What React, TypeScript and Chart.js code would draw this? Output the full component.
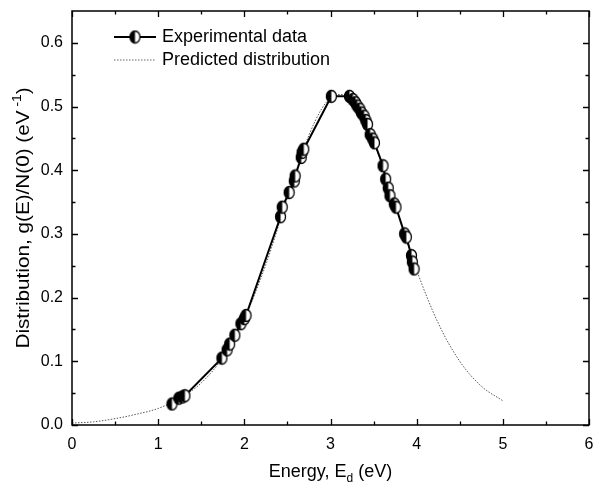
import React, { useEffect, useRef } from 'react';
import { Chart, registerables } from 'chart.js';

Chart.register(...registerables);

// Predicted distribution
const predictedE = [0, 0.25, 0.5, 0.75, 1.0, 1.25, 1.5, 1.75, 2.0, 2.25, 2.5, 2.75, 2.9, 3.0, 3.12, 3.25, 3.5, 3.75, 4.0, 4.25, 4.5, 4.75, 5.0];
const predictedG = [0.003, 0.005, 0.010, 0.017, 0.026, 0.042, 0.066, 0.106, 0.167, 0.252, 0.357, 0.455, 0.497, 0.513, 0.519, 0.512, 0.444, 0.345, 0.243, 0.160, 0.100, 0.061, 0.038];

// Experimental data
const expE = [1.16, 1.24, 1.28, 1.31, 1.74, 1.80, 1.83, 1.89, 1.96, 2.00, 2.02, 2.42, 2.44, 2.52, 2.58, 2.59, 2.66, 2.67, 2.69, 3.01, 3.22, 3.26, 3.29, 3.31, 3.34, 3.36, 3.39, 3.41, 3.43, 3.46, 3.49, 3.51, 3.61, 3.64, 3.67, 3.69, 3.74, 3.76, 3.86, 3.88, 3.94, 3.95, 3.97];
const expG = [0.033, 0.042, 0.044, 0.046, 0.105, 0.118, 0.127, 0.141, 0.159, 0.167, 0.172, 0.327, 0.342, 0.365, 0.383, 0.391, 0.420, 0.428, 0.433, 0.516, 0.516, 0.511, 0.506, 0.501, 0.496, 0.490, 0.485, 0.478, 0.472, 0.456, 0.449, 0.443, 0.407, 0.386, 0.372, 0.360, 0.347, 0.342, 0.300, 0.295, 0.266, 0.256, 0.245];

const xTicks = [0, 1, 2, 3, 4, 5, 6];
const yTicks = [0, 0.1, 0.2, 0.3, 0.4, 0.5, 0.6];
const xMinorTicks = [0.5, 1.5, 2.5, 3.5, 4.5, 5.5];
const yMinorTicks = [0.05, 0.15, 0.25, 0.35, 0.45, 0.55];

const legendLabels = ['Experimental data', 'Predicted distribution'];
const xTitle = ['Energy, E', 'd', ' (eV)'];
const yTitle = ['Distribution, g(E)/N(0) (eV', ' -1', ')'];

const FONT = "'Liberation Sans', Arial, Helvetica, sans-serif";

function makeMarker(): HTMLCanvasElement {
  const c = document.createElement('canvas');
  const w = 13, h = 15;
  c.width = w;
  c.height = h;
  const ctx = c.getContext('2d')!;
  const cx = w / 2, cy = h / 2, rx = 5, ry = 6;
  ctx.beginPath();
  ctx.ellipse(cx, cy, rx, ry, 0, 0, Math.PI * 2);
  ctx.fillStyle = '#fff';
  ctx.fill();
  ctx.beginPath();
  ctx.ellipse(cx, cy, rx, ry, 0, Math.PI / 2, (Math.PI * 3) / 2);
  ctx.closePath();
  ctx.fillStyle = '#000';
  ctx.fill();
  ctx.beginPath();
  ctx.ellipse(cx, cy, rx, ry, 0, 0, Math.PI * 2);
  ctx.lineWidth = 1.3;
  ctx.strokeStyle = '#000';
  ctx.stroke();
  return c;
}

export default function App() {
  const ref = useRef<HTMLCanvasElement | null>(null);

  useEffect(() => {
    document.body.style.margin = '0';
    const marker = makeMarker();

    const framePlugin = {
      id: 'frameTicks',
      afterDatasetsDraw(chart: any) {
        const { ctx, chartArea: a, scales } = chart;
        const xs = scales.x, ys = scales.y;
        ctx.save();
        ctx.strokeStyle = '#000';
        ctx.lineWidth = 1.5;
        ctx.strokeRect(a.left, a.top, a.right - a.left, a.bottom - a.top);
        ctx.lineWidth = 1.3;
        const major = 6, minor = 3.5;
        ctx.beginPath();
        const xt = (v: number, len: number) => {
          const p = Math.round(xs.getPixelForValue(v)) + 0.5;
          ctx.moveTo(p, a.bottom); ctx.lineTo(p, a.bottom - len);
          ctx.moveTo(p, a.top); ctx.lineTo(p, a.top + len);
        };
        const yt = (v: number, len: number) => {
          const p = Math.round(ys.getPixelForValue(v)) + 0.5;
          ctx.moveTo(a.left, p); ctx.lineTo(a.left + len, p);
          ctx.moveTo(a.right, p); ctx.lineTo(a.right - len, p);
        };
        xTicks.forEach((v) => xt(v, major));
        xMinorTicks.forEach((v) => xt(v, minor));
        yTicks.forEach((v) => yt(v, major));
        yMinorTicks.forEach((v) => yt(v, minor));
        ctx.stroke();

        // Legend
        const lx0 = a.left + 42, lx1 = a.left + 84;
        const r1 = a.top + 26, r2 = a.top + 49;
        ctx.strokeStyle = '#000';
        ctx.lineWidth = 2;
        ctx.setLineDash([]);
        ctx.beginPath();
        ctx.moveTo(lx0, r1); ctx.lineTo(lx1, r1);
        ctx.stroke();
        ctx.drawImage(marker, (lx0 + lx1) / 2 - marker.width / 2, r1 - marker.height / 2);
        ctx.lineWidth = 1;
        ctx.strokeStyle = '#666';
        ctx.setLineDash([1.5, 1.5]);
        ctx.beginPath();
        ctx.moveTo(lx0, r2); ctx.lineTo(lx1, r2);
        ctx.stroke();
        ctx.setLineDash([]);
        ctx.fillStyle = '#000';
        ctx.font = `18px ${FONT}`;
        ctx.textBaseline = 'middle';
        ctx.textAlign = 'left';
        ctx.fillText(legendLabels[0], lx1 + 6, r1);
        ctx.fillText(legendLabels[1], lx1 + 6, r2);

        // X title
        const big = `18px ${FONT}`, small = `12px ${FONT}`;
        ctx.textBaseline = 'alphabetic';
        ctx.font = big;
        const w0 = ctx.measureText(xTitle[0]).width;
        const w2 = ctx.measureText(xTitle[2]).width;
        ctx.font = small;
        const w1 = ctx.measureText(xTitle[1]).width;
        const cx = (a.left + a.right) / 2;
        let sx = cx - (w0 + w1 + w2) / 2;
        const by = 477;
        ctx.font = big; ctx.fillText(xTitle[0], sx, by); sx += w0;
        ctx.font = small; ctx.fillText(xTitle[1], sx, by + 5); sx += w1;
        ctx.font = big; ctx.fillText(xTitle[2], sx, by);

        // Y title (stretched along its length like the reference)
        ctx.save();
        ctx.translate(29, 218);
        ctx.rotate(-Math.PI / 2);
        ctx.scale(1.15, 1);
        ctx.font = big;
        const v0 = ctx.measureText(yTitle[0]).width;
        const v2 = ctx.measureText(yTitle[2]).width;
        ctx.font = small;
        const v1 = ctx.measureText(yTitle[1]).width;
        let sy = -(v0 + v1 + v2) / 2;
        ctx.font = big; ctx.fillText(yTitle[0], sy, 0); sy += v0;
        ctx.font = small; ctx.fillText(yTitle[1], sy, -8); sy += v1;
        ctx.font = big; ctx.fillText(yTitle[2], sy, 0);
        ctx.restore();
        ctx.restore();
      },
    };

    const chart = new Chart(ref.current!, {
      type: 'scatter',
      data: {
        datasets: [
          {
            label: legendLabels[0],
            data: expE.map((e, i) => ({ x: e, y: expG[i] })),
            showLine: true,
            borderColor: '#000',
            borderWidth: 2,
            pointStyle: marker as any,
            pointRadius: 6,
            tension: 0,
            order: 1,
          },
          {
            label: legendLabels[1],
            data: predictedE.map((e, i) => ({ x: e, y: predictedG[i] })),
            showLine: true,
            borderColor: '#555',
            borderWidth: 1,
            borderDash: [1.5, 1.5],
            pointRadius: 0,
            cubicInterpolationMode: 'monotone',
            order: 2,
          },
        ],
      },
      options: {
        animation: false,
        responsive: false,
        maintainAspectRatio: false,
        layout: { padding: { top: 11, right: 5, left: 0, bottom: 0 } },
        plugins: { legend: { display: false }, tooltip: { enabled: false } },
        scales: {
          x: {
            type: 'linear',
            min: 0,
            max: 6,
            afterBuildTicks: (s: any) => { s.ticks = xTicks.map((v) => ({ value: v })); },
            afterFit: (s: any) => { s.height = 62; s.paddingLeft = 0; s.paddingRight = 0; },
            grid: { display: false, drawTicks: false },
            border: { display: false },
            ticks: {
              color: '#000',
              font: { family: FONT, size: 16 },
              padding: 10,
              maxRotation: 0,
              callback: (v: any) => String(v),
            },
          },
          y: {
            type: 'linear',
            min: 0,
            max: 0.65,
            afterBuildTicks: (s: any) => { s.ticks = yTicks.map((v) => ({ value: v })); },
            afterFit: (s: any) => { s.width = 72; s.paddingTop = 0; s.paddingBottom = 0; },
            grid: { display: false, drawTicks: false },
            border: { display: false },
            ticks: {
              color: '#000',
              font: { family: FONT, size: 16 },
              padding: 9,
              callback: (v: any) => Number(v).toFixed(1),
            },
          },
        },
      },
      plugins: [framePlugin],
    });
    return () => chart.destroy();
  }, []);

  return (
    <div style={{ width: 597, height: 487 }}>
      <canvas ref={ref} width={597} height={487} style={{ width: 597, height: 487, display: 'block' }} />
    </div>
  );
}
